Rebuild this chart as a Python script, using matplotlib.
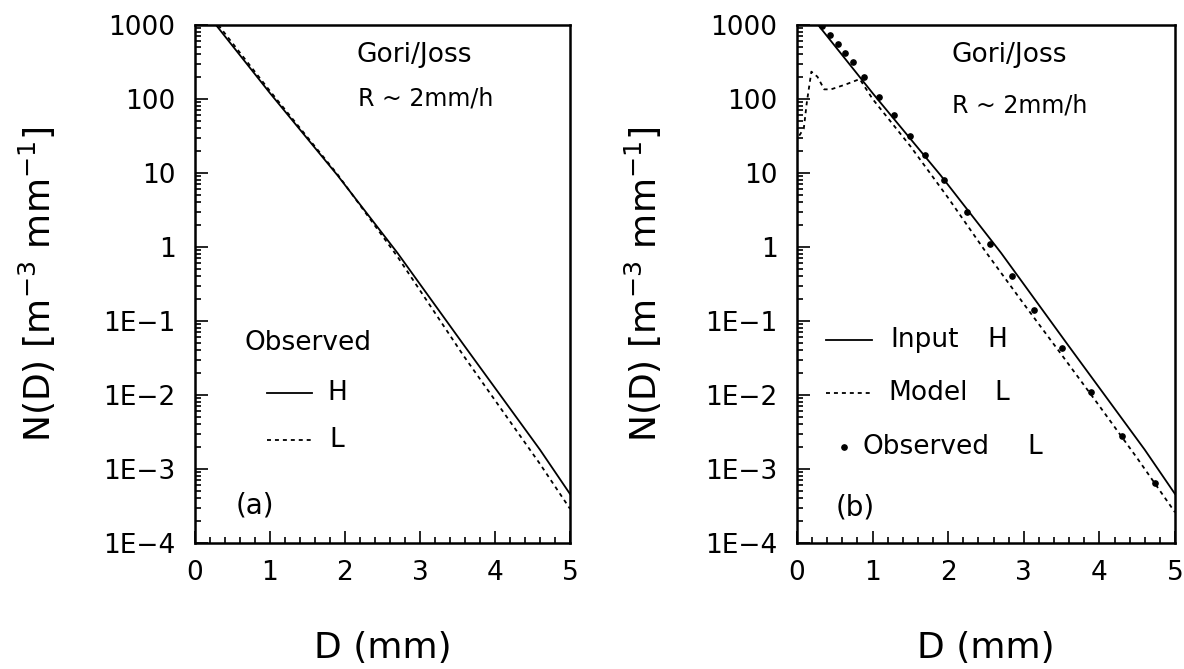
"""
N(D) drop size distributions, Gori/Joss, R ~ 2 mm/h.
(a) observed H and L spectra, (b) input H, model L and observed L.
"""
import numpy as np
import matplotlib.pyplot as plt
from matplotlib.ticker import FixedLocator, MultipleLocator, LogLocator, NullFormatter

plt.rcParams["font.family"] = "DejaVu Sans"

# observed H spectrum (also the model input in b)
H_D = [0.28, 1.0, 1.9, 2.7, 3.58, 4.6, 5.0]
H_N = [1000, 120, 9.3, 0.83, 0.048, 1.82e-3, 4.6e-4]

# observed L spectrum (panel a)
L_D = [0.31, 1.0, 1.9, 2.7, 3.58, 4.6, 5.0]
L_N = [1000, 128, 9.6, 0.74, 0.034, 1.17e-3, 2.9e-4]

# model L spectrum (panel b)
M_D = [0.03, 0.09, 0.13, 0.19, 0.27, 0.36, 0.45, 0.65, 0.83, 1.0, 1.5, 2.0, 2.5, 3.0, 3.5, 4.0, 4.5, 5.0]
M_N = [32, 40, 90, 234, 200, 135, 135, 158, 186, 100, 23, 4.6, 0.85, 0.17, 0.035, 7.1e-3, 1.4e-3, 2.6e-4]

# observed L, disdrometer classes (panel b)
OBS_D = [0.33, 0.44, 0.54, 0.64, 0.74, 0.88, 1.09, 1.28, 1.49, 1.69, 1.94,
         2.25, 2.55, 2.85, 3.14, 3.50, 3.89, 4.30, 4.74]
OBS_N = [955, 733, 553, 423, 316, 200, 107, 60, 32, 17.4, 8.0,
         3.0, 1.1, 0.41, 0.14, 0.043, 0.011, 2.8e-3, 6.5e-4]

Y_TICKS  = [1e3, 1e2, 1e1, 1, 1e-1, 1e-2, 1e-3, 1e-4]
Y_LABELS = ["1000", "100", "10", "1", "1E\u22121", "1E\u22122", "1E\u22123", "1E\u22124"]
X_TICKS  = [0, 1, 2, 3, 4, 5]

TICK_FS = 19
TEXT_FS = 19
LAB_FS  = 26
DOTTED  = (0, (2.2, 2.2))

fig = plt.figure(figsize=(11.84, 6.69), dpi=100)
ax_a = fig.add_axes([195 / 1184, 1 - 543 / 669, 375 / 1184, 518 / 669])
ax_b = fig.add_axes([797 / 1184, 1 - 543 / 669, 378 / 1184, 518 / 669])


def style(ax, ylab_x):
    ax.set_yscale("log")
    ax.set_xlim(0, 5)
    ax.set_ylim(1e-4, 1e3)
    ax.yaxis.set_major_locator(FixedLocator(Y_TICKS))
    ax.set_yticklabels(Y_LABELS)
    ax.yaxis.set_minor_locator(LogLocator(base=10, subs=np.arange(2, 10), numticks=20))
    ax.yaxis.set_minor_formatter(NullFormatter())
    ax.set_xticks(X_TICKS)
    ax.set_xticklabels([str(t) for t in X_TICKS])
    ax.xaxis.set_minor_locator(MultipleLocator(0.2))
    ax.tick_params(which="both", direction="in", top=False, right=False,
                   labelsize=TICK_FS, width=1.2)
    ax.tick_params(axis="y", which="major", pad=14)
    ax.tick_params(axis="x", which="major", pad=12)
    ax.tick_params(which="major", length=9)
    ax.tick_params(which="minor", length=4.5)
    for sp in ax.spines.values():
        sp.set_linewidth(1.8)
    ax.set_xlabel("D (mm)", fontsize=LAB_FS, va="center")
    ax.xaxis.set_label_coords(0.5, -0.203)
    ax.set_ylabel("N(D) [m$^{-3}$ mm$^{-1}$]", fontsize=LAB_FS, va="center")
    ax.yaxis.set_label_coords(ylab_x, 0.5)


# ---- (a)
style(ax_a, (37 - 195) / 375)
ax_a.plot(H_D, H_N, color="black", lw=1.3)
ax_a.plot(L_D, L_N, color="black", lw=1.3, ls=DOTTED)

ax_a.text(0.432, 0.942, "Gori/Joss", transform=ax_a.transAxes, fontsize=TEXT_FS, va="center")
ax_a.text(0.435, 0.859, "R ~ 2mm/h", transform=ax_a.transAxes, fontsize=TEXT_FS - 2, va="center")
ax_a.text(0.30, 0.386, "Observed", transform=ax_a.transAxes, fontsize=TEXT_FS, ha="center", va="center")
ax_a.plot([0.192, 0.312], [0.290, 0.290], transform=ax_a.transAxes, color="black", lw=1.3)
ax_a.text(0.379, 0.290, "H", transform=ax_a.transAxes, fontsize=TEXT_FS, ha="center", va="center")
ax_a.plot([0.192, 0.312], [0.199, 0.199], transform=ax_a.transAxes, color="black", lw=1.3, ls=DOTTED)
ax_a.text(0.379, 0.199, "L", transform=ax_a.transAxes, fontsize=TEXT_FS, ha="center", va="center")
ax_a.text(0.16, 0.073, "(a)", transform=ax_a.transAxes, fontsize=TEXT_FS + 1, ha="center", va="center")

# ---- (b)
style(ax_b, (643 - 797) / 378)
ax_b.plot(H_D, H_N, color="black", lw=1.3)
ax_b.plot(M_D, M_N, color="black", lw=1.3, ls=DOTTED)
ax_b.plot(OBS_D, OBS_N, "o", color="black", ms=3.8)

ax_b.text(0.41, 0.942, "Gori/Joss", transform=ax_b.transAxes, fontsize=TEXT_FS, va="center")
ax_b.text(0.41, 0.844, "R ~ 2mm/h", transform=ax_b.transAxes, fontsize=TEXT_FS - 2, va="center")
ax_b.plot([0.077, 0.198], [0.392, 0.392], transform=ax_b.transAxes, color="black", lw=1.3)
ax_b.text(0.246, 0.392, "Input", transform=ax_b.transAxes, fontsize=TEXT_FS, va="center")
ax_b.text(0.529, 0.392, "H", transform=ax_b.transAxes, fontsize=TEXT_FS, ha="center", va="center")
ax_b.plot([0.077, 0.196], [0.290, 0.290], transform=ax_b.transAxes, color="black", lw=1.3, ls=DOTTED)
ax_b.text(0.241, 0.290, "Model", transform=ax_b.transAxes, fontsize=TEXT_FS, va="center")
ax_b.text(0.542, 0.290, "L", transform=ax_b.transAxes, fontsize=TEXT_FS, ha="center", va="center")
ax_b.plot([0.124], [0.185], "o", transform=ax_b.transAxes, color="black", ms=3.8)
ax_b.text(0.172, 0.185, "Observed", transform=ax_b.transAxes, fontsize=TEXT_FS, va="center")
ax_b.text(0.63, 0.185, "L", transform=ax_b.transAxes, fontsize=TEXT_FS, ha="center", va="center")
ax_b.text(0.153, 0.068, "(b)", transform=ax_b.transAxes, fontsize=TEXT_FS + 1, ha="center", va="center")

fig.savefig("out.png", dpi=100)
